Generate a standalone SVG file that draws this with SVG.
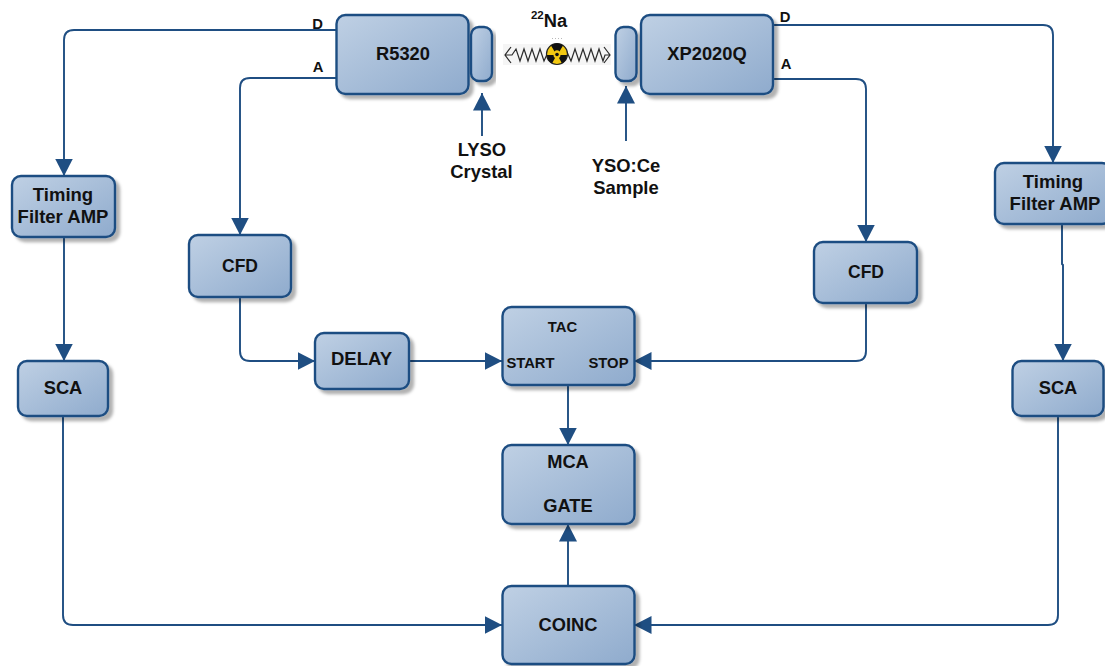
<svg xmlns="http://www.w3.org/2000/svg" width="1105" height="666" viewBox="0 0 1105 666">
<style>
.b{fill:url(#g);stroke:#1f4e82;stroke-width:2.4;filter:url(#s)}
text{font-family:"Liberation Sans",Arial,sans-serif;font-weight:bold;fill:#111;text-anchor:middle}
.t{font-size:18.300px}
.w{font-size:18.500px}
.m{font-size:17.500px}
.l{font-size:18.400px}
.s{font-size:14.800px}
.c{fill:none;stroke:#1f4e82;stroke-width:1.9;marker-end:url(#a)}
.z{fill:none;stroke:#2a2a2a;stroke-width:1.200}
</style>
<defs>
<linearGradient id="g" x1="0" y1="0" x2="1" y2="1"><stop offset="0" stop-color="#bfd0e4"/><stop offset="1" stop-color="#8fabcd"/></linearGradient>
<filter id="s" x="-10%" y="-10%" width="125%" height="125%"><feDropShadow dx="4" dy="4" stdDeviation="1.800" flood-color="#000" flood-opacity=".3"/></filter>
<marker id="a" markerUnits="userSpaceOnUse" markerWidth="19" markerHeight="19" refX="17.500" refY="9.500" orient="auto"><path d="M0 .5L17.500 9.500L0 18.500z" fill="#1f4e82"/></marker>
</defs>
<g id="connectors">
<path class="c" d="M336 30H74Q64 30 64 40V176"/>
<path class="c" d="M336 78H250Q240 78 240 88V235"/>
<path class="c" d="M240 297V351Q240 361 250 361H315"/>
<path class="c" d="M409 361H502"/>
<path class="c" d="M866 303V351Q866 361 856 361H634"/>
<path class="c" d="M773 79H856Q866 79 866 89V242"/>
<path class="c" d="M773 25H1043Q1053 25 1053 35V163"/>
<path class="c" d="M64 237V361"/>
<path class="c" d="M1062 224V264L1063 265V361"/>
<path class="c" d="M63 416V615Q63 625 73 625H502"/>
<path class="c" d="M1058 416V615Q1058 625 1048 625H634"/>
<path class="c" d="M568 385V445"/>
<path class="c" d="M568 586V524"/>
<path class="c" d="M482 136V93"/>
<path class="c" d="M626 141V86"/>
</g>
<g id="r5320"><rect class="b" x="336.500" y="15" width="132" height="79" rx="9"/><text class="t" x="403" y="60">R5320</text></g>
<g id="lyso"><rect class="b" x="471" y="27" width="21" height="54" rx="8"/></g>
<g id="yso"><rect class="b" x="615.500" y="27" width="21" height="54" rx="8"/></g>
<g id="xp2020q"><rect class="b" x="641" y="15" width="132" height="79" rx="9"/><text class="t" x="707" y="60">XP2020Q</text></g>
<g id="timing-left"><rect class="b" x="12" y="176" width="103" height="61" rx="9"/><text class="w" x="63" y="201">Timing</text><text class="w" x="63" y="223">Filter AMP</text></g>
<g id="cfd-left"><rect class="b" x="189" y="235" width="102" height="62" rx="9"/><text class="m" x="240" y="272">CFD</text></g>
<g id="delay"><rect class="b" x="315" y="333" width="94" height="56" rx="9"/><text class="w" x="361.500" y="365">DELAY</text></g>
<g id="tac"><rect class="b" x="502.500" y="307" width="132" height="78" rx="9"/><text class="s" x="562.500" y="332">TAC</text><text class="s" x="530.500" y="368">START</text><text class="s" x="608.500" y="368">STOP</text></g>
<g id="cfd-right"><rect class="b" x="814" y="242" width="103" height="61" rx="9"/><text class="m" x="866" y="278">CFD</text></g>
<g id="timing-right"><rect class="b" x="995" y="163" width="116" height="61" rx="9"/><text class="w" x="1053" y="188">Timing</text><text class="w" x="1055" y="210">Filter AMP</text></g>
<g id="sca-left"><rect class="b" x="18" y="361" width="90" height="55" rx="9"/><text class="t" x="63" y="394">SCA</text></g>
<g id="sca-right"><rect class="b" x="1012.500" y="361" width="91" height="55" rx="9"/><text class="t" x="1058" y="394">SCA</text></g>
<g id="mca"><rect class="b" x="502.500" y="445" width="132" height="79" rx="9"/><text class="t" x="568" y="468">MCA</text><text class="t" x="568" y="512">GATE</text></g>
<g id="coinc"><rect class="b" x="502.500" y="586" width="132" height="78" rx="9"/><text class="t" x="568" y="631">COINC</text></g>
<g id="source">
<rect x="503" y="44" width="108" height="21" fill="#f5f5f5"/>
<path class="z" d="M511 47L505 55L511 63M505 55H512L516 49L520 61L524 49L528 61L532 49L536 61L540 49L544 61L548 52M567 52L571 61L575 49L579 61L583 49L587 61L591 49L595 61L599 49L603 61L605 55H610M604 47L610 55L604 63"/>
<circle cx="557" cy="54" r="10.500" fill="#f2c811" stroke="#222" stroke-width="1.200"/>
<path d="M551 45.500A10 10 0 0 1 563 45.500L559.500 51.500A3 3 0 0 0 554.500 51.500ZM547 55H553.500A3.500 3.500 0 0 0 555 58L552 63.500A10 10 0 0 1 547 55ZM567 55H560.500A3.500 3.500 0 0 1 559 58L562 63.500A10 10 0 0 0 567 55Z" fill="#111"/>
<circle cx="557" cy="54.500" r="1.800" fill="#111"/>
<path d="M552 38.500H562" stroke="#999" stroke-width=".7" stroke-dasharray="1 2"/>
</g>
<g id="labels">
<text class="s" x="317.500" y="29">D</text>
<text class="s" x="318" y="72">A</text>
<text class="s" x="785" y="22">D</text>
<text class="s" x="786" y="69">A</text>
<text class="l" x="482" y="156">LYSO</text>
<text class="l" x="481.500" y="178">Crystal</text>
<text class="l" x="626" y="172">YSO:Ce</text>
<text class="l" x="626" y="194">Sample</text>
<text class="t" x="549" y="27"><tspan font-size="11.500" dy="-8.500">22</tspan><tspan dy="8.500">Na</tspan></text>
</g>
</svg>
